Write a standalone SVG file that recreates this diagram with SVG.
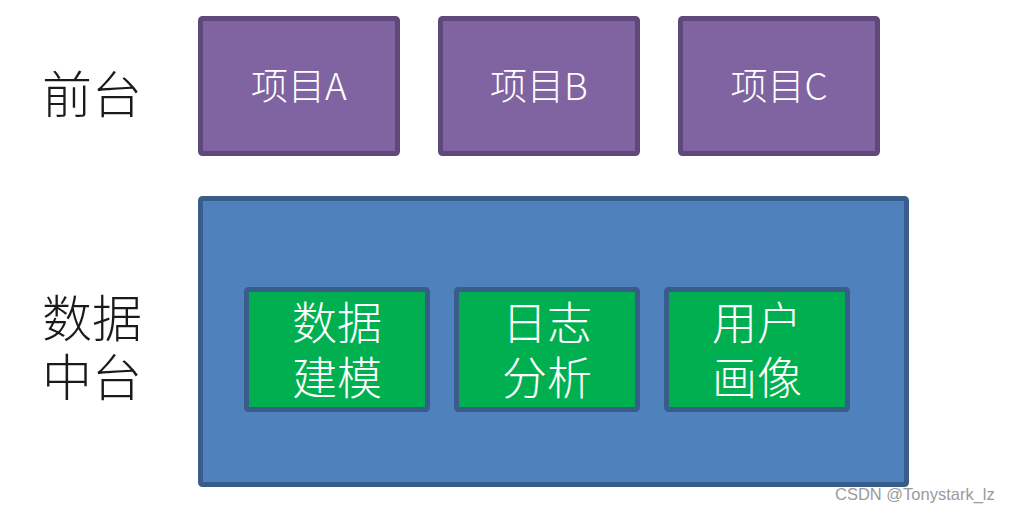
<svg xmlns="http://www.w3.org/2000/svg" width="1013" height="514" viewBox="0 0 1013 514">
<style>
.cjk{font-family:"Noto Sans CJK SC","Noto Sans",sans-serif;}
.proj rect{fill:#8064A2;stroke:#5F497A;stroke-width:5;}
.proj text{fill:#FFFFFF;font-size:37px;text-anchor:middle;font-weight:300;}
.mod rect{fill:#00B050;stroke:#385D8A;stroke-width:5;}
.mod text{fill:#FFFFFF;font-size:45px;text-anchor:middle;font-weight:300;}
.side{fill:#1a1a1a;font-size:50px;font-weight:300;}
</style>
<rect width="1013" height="514" fill="#FFFFFF"/>
<g id="label-front"><text class="cjk side" x="42" y="113">前台</text></g>
<g id="label-middle"><text class="cjk side"><tspan x="42" y="337">数据</tspan><tspan x="42" y="396">中台</tspan></text></g>
<g id="projA" class="proj"><rect x="200.5" y="18.5" width="197" height="135" rx="2"/><text class="cjk" x="299" y="100">项目A</text></g>
<g id="projB" class="proj"><rect x="440.5" y="18.5" width="197" height="135" rx="2"/><text class="cjk" x="539" y="100">项目B</text></g>
<g id="projC" class="proj"><rect x="680.5" y="18.5" width="197" height="135" rx="2"/><text class="cjk" x="779" y="100">项目C</text></g>
<g id="platform"><rect x="200.5" y="198.5" width="706" height="286" rx="2" fill="#4F81BD" stroke="#385D8A" stroke-width="5"/></g>
<g id="mod1" class="mod"><rect x="246.5" y="289.5" width="181" height="120" rx="2"/><text class="cjk"><tspan x="337" y="340">数据</tspan><tspan x="337" y="395">建模</tspan></text></g>
<g id="mod2" class="mod"><rect x="456.5" y="289.5" width="181" height="120" rx="2"/><text class="cjk"><tspan x="547" y="340">日志</tspan><tspan x="547" y="395">分析</tspan></text></g>
<g id="mod3" class="mod"><rect x="666.5" y="289.5" width="181" height="120" rx="2"/><text class="cjk"><tspan x="757" y="340">用户</tspan><tspan x="757" y="395">画像</tspan></text></g>
<g id="connectors"></g>
<text x="835" y="500" font-family="Liberation Sans, Arial, sans-serif" font-size="16.5" fill="#9a9a9a">CSDN @Tonystark_lz</text>
</svg>
